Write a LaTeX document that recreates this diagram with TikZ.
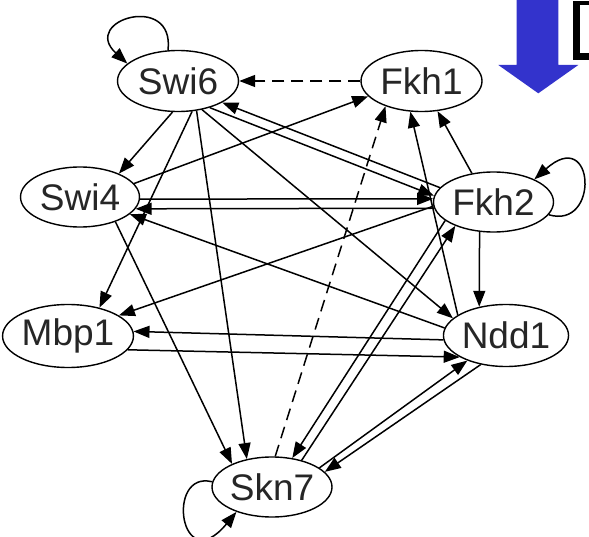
\documentclass[tikz,border=0pt]{standalone}
\usepackage{fontspec}
\usetikzlibrary{shapes.geometric,arrows.meta}
\newfontfamily\genefont{Liberation Sans}
\definecolor{arrowblue}{RGB}{51,51,204}
\tikzset{
  gene/.style={ellipse, draw, line width=1.4pt, minimum width=121pt, minimum height=61pt,
    inner sep=0pt, font=\genefont\fontsize{37}{40}\selectfont, text=black!85},
  link/.style={line width=1.5pt, -{Triangle[length=16pt,width=12pt]}},
  dlink/.style={link, dash pattern=on 12pt off 7pt},
}
\begin{document}
\begin{tikzpicture}[x=1pt,y=-1pt]
\useasboundingbox (0,0) rectangle (589,537);
\fill[white] (0,0) rectangle (589,537);
\clip (0,0) rectangle (589,537);
% decorations top right
\fill[arrowblue] (516.7,-2) -- (516.7,65) -- (498.3,65) -- (538.3,93.3) -- (578.3,65) -- (558.3,65) -- (558.3,-2) -- cycle;
\fill[black] (573.3,1.5) rectangle (600,60);
\fill[white] (580,5) rectangle (600,53.3);
% nodes
\node[gene] (Swi6) at (178,81) {Swi6};
\node[gene] (Fkh1) at (421.5,81) {Fkh1};
\node[gene, minimum width=119pt, minimum height=60pt] (Swi4) at (80,197) {Swi4};
\node[gene, minimum width=120pt, minimum height=60pt] (Fkh2) at (493.5,202) {Fkh2};
\node[gene, minimum width=122pt, minimum height=63pt] (Mbp1) at (68,336) {Mbp1};
\node[gene, minimum width=120pt, minimum height=62pt] (Ndd1) at (506,335.5) {Ndd1};
\node[gene, minimum width=120pt, minimum height=60pt] (Skn7) at (272,487) {Skn7};
% self loops
\draw[link] (Swi6.108) .. controls (175,-8) and (80,20) .. (Swi6.161);
\draw[link] (Fkh2.-13) .. controls (600,230) and (595,125) .. (Fkh2.29);
\draw[link] (Skn7.175) .. controls (165,470) and (180,580) .. (Skn7.215);
% dashed
\draw[dlink] (Fkh1.180) -- (Swi6.0);
\draw[dlink] (Skn7.84) -- (Fkh1.-145);
% from Swi6
\draw[link] (Swi6.-100) -- (Swi4.31);
\draw[link] (Swi6.-65) -- (Mbp1.42);
\draw[link] (Swi6.-58) -- (Skn7.132);
\draw[link] (Swi6.-50) -- (Ndd1.162);
\draw[link] (Swi6.-40) -- (Fkh2.174);
\draw[link] (Fkh2.165) -- (Swi6.-26);
% Swi4
\draw[link] (Swi4.14) -- (Fkh1.196);
\draw[link] (Swi4.-2) -- (Fkh2.177);
\draw[link] (Fkh2.186) -- (Swi4.-12);
\draw[link] (Ndd1.173) -- (Swi4.-19);
\draw[link] (Swi4.-35) -- (Skn7.150);
% Mbp1
\draw[link] (Fkh2.184) -- (Mbp1.22);
\draw[link] (Ndd1.184) -- (Mbp1.4);
\draw[link] (Mbp1.-13) -- (Ndd1.205);
% Fkh1 inputs
\draw[link] (Fkh2.127) -- (Fkh1.-62);
\draw[link] (Ndd1.157) -- (Fkh1.-110);
% Fkh2 / Ndd1 / Skn7
\draw[link] (Fkh2.-115) -- (Ndd1.133);
\draw[link] (Fkh2.201) -- (Skn7.55);
\draw[link] (Skn7.42) -- (Fkh2.212);
\draw[link] (Skn7.22) -- (Ndd1.213);
\draw[link] (Ndd1.229) -- (Skn7.16);
\end{tikzpicture}
\end{document}
